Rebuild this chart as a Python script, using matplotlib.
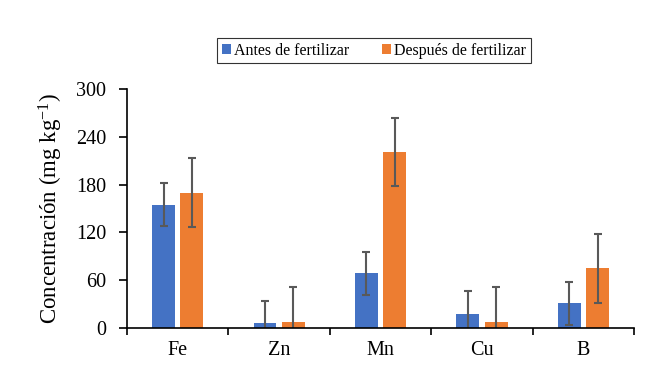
import matplotlib
matplotlib.use("Agg")
import matplotlib.pyplot as plt
import numpy as np

categories = ["Fe", "Zn", "Mn", "Cu", "B"]
antes = [155, 6, 69, 18, 31]
despues = [170, 8, 221, 8, 75]
antes_err = [27, 28, 27, 28, 27]
despues_err = [43, 44, 43, 43, 43]
series_labels = ["Antes de fertilizar", "Después de fertilizar"]
yticks = [0, 60, 120, 180, 240, 300]

plt.rcParams['font.family'] = ['Liberation Serif', 'DejaVu Serif']
plt.rcParams['mathtext.fontset'] = 'custom'
plt.rcParams['mathtext.rm'] = 'Liberation Serif'
plt.rcParams['mathtext.it'] = 'Liberation Serif:italic'

fig = plt.figure(figsize=(6.56, 3.75), dpi=100)
ax = fig.add_axes([0.1936, 0.1253, 0.7729, 0.6374])

x = np.arange(len(categories))
w = 0.225
off = 0.14
ekw = dict(ecolor="#595959", elinewidth=1.5, capsize=3, capthick=1.5)
ax.bar(x - off, antes, w, color="#4472C4", label=series_labels[0],
       yerr=antes_err, error_kw=ekw)
ax.bar(x + off, despues, w, color="#ED7D31", label=series_labels[1],
       yerr=despues_err, error_kw=ekw)

ax.set_xlim(-0.5, len(categories) - 0.5)
ax.set_ylim(0, 300)
ax.set_yticks(yticks)
ax.tick_params(axis='y', labelsize=14.5, length=6, width=1.2, direction='out', pad=9)
ax.set_xticks(x)
ax.set_xticklabels(categories, fontsize=14.5)
ax.tick_params(axis='x', which='major', length=0, pad=9)
ax.set_xticks(np.arange(-0.5, len(categories), 1), minor=True)
ax.tick_params(axis='x', which='minor', length=5, width=1.2, direction='out')

for s in ["top", "right"]:
    ax.spines[s].set_visible(False)
for s in ["left", "bottom"]:
    ax.spines[s].set_linewidth(1.2)
    ax.spines[s].set_color("black")

ax.set_ylabel("Concentración (mg kg$^{\\mathrm{-1}}$)", fontsize=16.5, labelpad=8)

leg = ax.legend(loc="center", bbox_to_anchor=(0.487, 1.161), ncol=2, fontsize=11.5,
                frameon=True, fancybox=False, edgecolor="black", handlelength=0.6,
                handleheight=0.6, handletextpad=0.2, columnspacing=2.0,
                borderpad=0.3)
leg.get_frame().set_linewidth(0.8)

fig.savefig("out.png", dpi=100)
